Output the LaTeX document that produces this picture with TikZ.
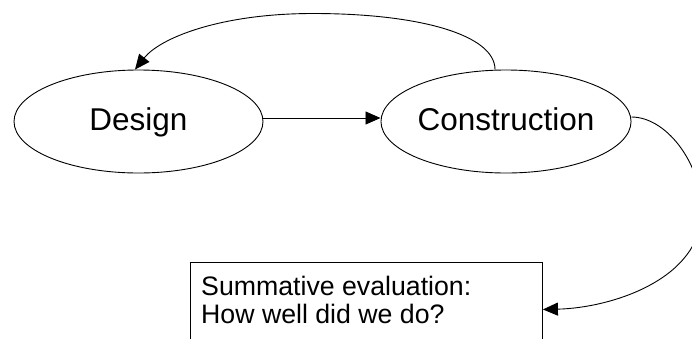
\documentclass[tikz,border=0pt]{standalone}
\usepackage{fontspec}
\setmainfont{Liberation Sans}
\usetikzlibrary{shapes.geometric,arrows.meta}
\tikzset{
  stage/.style={ellipse, draw, line width=0.9pt, minimum width=249pt, minimum height=103pt,
    inner sep=0pt, text height=24pt, text depth=5.6pt, font=\fontsize{31.5}{37}\selectfont},
  conn/.style={line width=0.9pt, -{Triangle[length=15pt,width=13pt]}},
  evalbox/.style={draw, rectangle, line width=0.9pt, minimum width=352pt, minimum height=94pt, inner sep=0pt},
  evaltxt/.style={inner sep=0pt, align=left, font=\fontsize{26.7}{28}\selectfont}
}
\begin{document}
\begin{tikzpicture}[x=1pt,y=-1pt]
\useasboundingbox (0,0) rectangle (692,338);
\clip (0,0) rectangle (692,338);
\node[stage] (design) at (138.5,121.5) {Design};
\node[stage] (construction) at (506,121.5) {Construction};
\node[evalbox, anchor=north west] (box) at (190,262) {};
\node[evaltxt, anchor=base west] (evaltext) at (201,323) {Summative evaluation:\\How well did we do?};
\draw[conn] ([yshift=3.5pt]design.east) -- ([yshift=3.5pt]construction.west);
\draw[conn] ([xshift=-11pt]construction.north) .. controls (495,35) and (420,13.5) .. (313,13.5)
  .. controls (220,13.5) and (160,38) .. ([xshift=-3.5pt]design.north);
\draw[conn] ([yshift=4.5pt]construction.east) .. controls (665,117) and (700,160) .. (702,210)
  .. controls (702,280) and (610,308) .. (box.east);
\end{tikzpicture}
\end{document}
